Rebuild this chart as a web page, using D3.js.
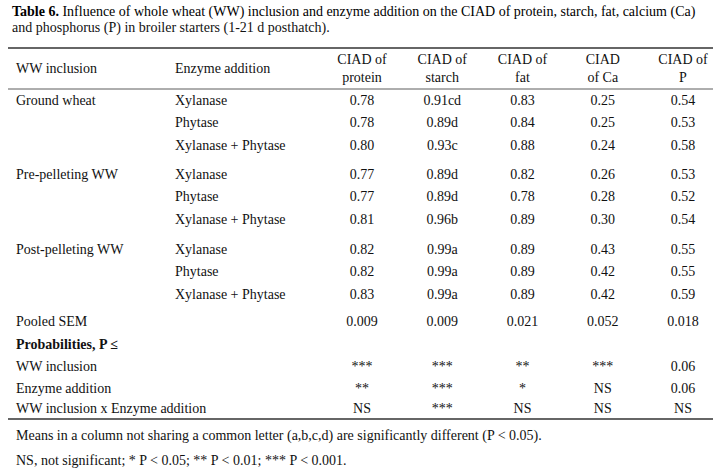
<!DOCTYPE html>
<html><head><meta charset="utf-8">
<script src="https://cdn.jsdelivr.net/npm/d3@7"></script>
<style>body{margin:0;background:#fff}svg{font-family:"Liberation Serif","Times New Roman",serif;}</style>
</head><body><svg id="c" width="717" height="474"></svg>
<script>
const headers = ["CIAD of|protein","CIAD of|starch","CIAD of|fat","CIAD|of Ca","CIAD of|P"];
const wwGroups = ["Ground wheat","Pre-pelleting  WW","Post-pelleting WW"];
const enzymes = ["Xylanase","Phytase","Xylanase + Phytase"];
const protein = ["0.78","0.78","0.80","0.77","0.77","0.81","0.82","0.82","0.83"];
const starch = ["0.91cd","0.89d","0.93c","0.89d","0.89d","0.96b","0.99a","0.99a","0.99a"];
const fat = ["0.83","0.84","0.88","0.82","0.78","0.89","0.89","0.89","0.89"];
const ca = ["0.25","0.25","0.24","0.26","0.28","0.30","0.43","0.42","0.42"];
const p = ["0.54","0.53","0.58","0.53","0.52","0.54","0.55","0.55","0.59"];
const sem = ["0.009","0.009","0.021","0.052","0.018"];
const probLabels = ["WW inclusion","Enzyme addition","WW inclusion x Enzyme addition"];
const probs = [["***","***","**","***","0.06"],["**","***","*","NS","0.06"],["NS","***","NS","NS","NS"]];

const svg = d3.select("#c");
const fs = 14;
const x = d3.scalePoint().domain(d3.range(5)).range([362,683]);
const rowY = [102,124,147,176,198,221,251,273,296];
const t = (xx,yy,s,anchor,bold)=>svg.append("text").attr("x",xx).attr("y",yy).attr("font-size",fs)
  .attr("text-anchor",anchor||"start").attr("font-weight",bold?"bold":null).attr("dominant-baseline","middle").attr("fill","#111").text(s);

const ti = svg.append("text").attr("x",12).attr("y",13).attr("font-size",fs).attr("dominant-baseline","middle");
ti.append("tspan").attr("font-weight","bold").text("Table 6.");
ti.append("tspan").text(" Influence of whole wheat (WW)  inclusion and enzyme addition on the CIAD of protein, starch, fat, calcium (Ca)");
t(12,29,"and phosphorus (P) in broiler  starters (1-21 d posthatch).");

svg.append("line").attr("x1",8).attr("x2",713).attr("y1",48).attr("y2",48).attr("stroke","#333").attr("stroke-width",1.5);
svg.append("line").attr("x1",8).attr("x2",713).attr("y1",89).attr("y2",89).attr("stroke","#333").attr("stroke-width",0.8);
svg.append("line").attr("x1",8).attr("x2",713).attr("y1",419).attr("y2",419).attr("stroke","#333").attr("stroke-width",1.5);

t(16,70,"WW inclusion"); t(175,70,"Enzyme addition");
headers.forEach((h,i)=>{const [a,b]=h.split("|"); t(x(i),61,a,"middle"); t(x(i),79,b,"middle");});

const cols=[protein,starch,fat,ca,p];
rowY.forEach((y,r)=>{
  if(r%3===0) t(16,y,wwGroups[r/3]);
  t(175,y,enzymes[r%3]);
  cols.forEach((c,i)=>t(x(i),y,c[r],"middle"));
});
t(16,323,"Pooled SEM"); sem.forEach((s,i)=>t(x(i),323,s,"middle"));
t(16,346,"Probabilities, P \u2264",null,true);
[368,390,410].forEach((y,r)=>{t(16,y,probLabels[r]); probs[r].forEach((s,i)=>t(x(i),y,s,"middle"));});
t(16,437,"Means in a column not sharing a common letter (a,b,c,d) are significantly  different (P < 0.05).");
t(16,462,"NS, not significant; * P < 0.05; ** P < 0.01; *** P < 0.001.");
</script></body></html>
